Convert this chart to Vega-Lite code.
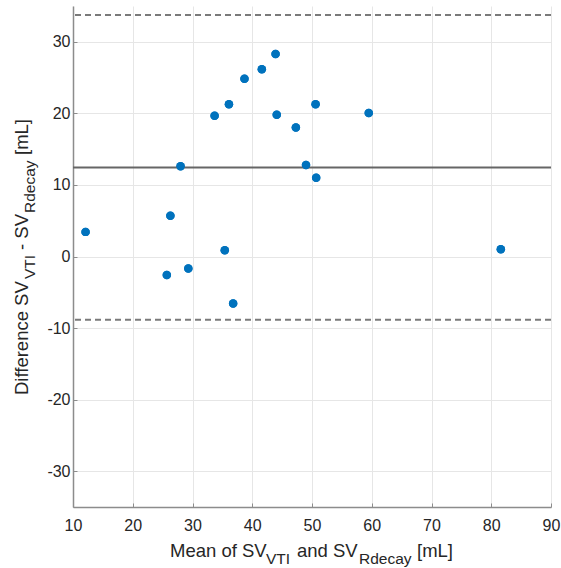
{
  "$schema": "https://vega.github.io/schema/vega-lite/v6.json",
  "width": 478,
  "height": 501,
  "autosize": {"type": "none"},
  "padding": {"left": 73, "top": 6, "right": 10, "bottom": 61},
  "background": "white",
  "config": {
    "view": {"stroke": null},
    "font": "Liberation Sans"
  },
  "datasets": {
    "points": [
      {"mean": 12.1, "diff": 3.44},
      {"mean": 25.7, "diff": -2.6},
      {"mean": 26.3, "diff": 5.68},
      {"mean": 28.0, "diff": 12.6},
      {"mean": 29.3, "diff": -1.68},
      {"mean": 33.7, "diff": 19.67},
      {"mean": 35.4, "diff": 0.88},
      {"mean": 36.1, "diff": 21.26},
      {"mean": 36.8, "diff": -6.57},
      {"mean": 38.7, "diff": 24.84},
      {"mean": 41.6, "diff": 26.15},
      {"mean": 43.9, "diff": 28.3},
      {"mean": 44.1, "diff": 19.8},
      {"mean": 47.3, "diff": 18.04},
      {"mean": 49.0, "diff": 12.77},
      {"mean": 50.6, "diff": 21.26},
      {"mean": 50.7, "diff": 10.99},
      {"mean": 59.5, "diff": 20.04},
      {"mean": 81.6, "diff": 1.02}
    ],
    "bias": [{"value": 12.43}],
    "limits": [{"value": 33.73}, {"value": -8.85}]
  },
  "layer": [
    {
      "data": {"name": "points"},
      "mark": {"type": "circle", "color": "#0072BD", "opacity": 1, "size": 72},
      "encoding": {
        "x": {"field": "mean", "type": "quantitative", "scale": {"domain": [10, 90], "nice": false, "zero": false},
          "axis": {"title": null, "values": [10, 20, 30, 40, 50, 60, 70, 80, 90], "labelExpr": "'' + datum.value", "labelFont": "Liberation Sans", "labelFontSize": 16, "labelColor": "#262626", "labelPadding": 14, "gridColor": "#e6e6e6", "gridWidth": 1, "domainColor": "#8c8c8c", "domainWidth": 1.5, "tickColor": "#8c8c8c", "tickSize": -4, "labelFlush": false}},
        "y": {"field": "diff", "type": "quantitative", "scale": {"domain": [-35, 35], "nice": false, "zero": false},
          "axis": {"title": null, "values": [-30, -20, -10, 0, 10, 20, 30], "labelExpr": "'' + datum.value", "labelFont": "Liberation Sans", "labelFontSize": 16, "labelColor": "#262626", "labelPadding": 7, "gridColor": "#e6e6e6", "gridWidth": 1, "domainColor": "#8c8c8c", "domainWidth": 1.5, "tickColor": "#8c8c8c", "tickSize": -4, "labelFlush": false}}
      }
    },
    {
      "data": {"name": "limits"},
      "mark": {"type": "rule", "color": "#7a7a7a", "strokeWidth": 2, "strokeDash": [6, 4]},
      "encoding": {
        "y": {"field": "value", "type": "quantitative", "scale": {"domain": [-35, 35], "nice": false, "zero": false}}
      }
    },
    {
      "data": {"name": "bias"},
      "mark": {"type": "rule", "color": "#666666", "strokeWidth": 2},
      "encoding": {
        "y": {"field": "value", "type": "quantitative", "scale": {"domain": [-35, 35], "nice": false, "zero": false}}
      }
    },
    {
      "data": {"name": "points"},
      "mark": {"type": "circle", "color": "#0072BD", "opacity": 1, "size": 72},
      "encoding": {
        "x": {"field": "mean", "type": "quantitative", "scale": {"domain": [10, 90], "nice": false, "zero": false}},
        "y": {"field": "diff", "type": "quantitative", "scale": {"domain": [-35, 35], "nice": false, "zero": false}}
      }
    },
    {
      "data": {"values": [{}]},
      "mark": {"type": "text", "text": "Mean of SV", "fontSize": 18.5, "color": "#262626", "align": "left", "baseline": "alphabetic", "dx": 97, "dy": 50, "clip": false},
      "encoding": {"x": {"datum": 10, "type": "quantitative"}, "y": {"datum": -35, "type": "quantitative"}}
    },
    {
      "data": {"values": [{}]},
      "mark": {"type": "text", "text": "VTI", "fontSize": 15.5, "color": "#262626", "align": "left", "baseline": "alphabetic", "dx": 193, "dy": 57, "clip": false},
      "encoding": {"x": {"datum": 10, "type": "quantitative"}, "y": {"datum": -35, "type": "quantitative"}}
    },
    {
      "data": {"values": [{}]},
      "mark": {"type": "text", "text": "and SV", "fontSize": 18.5, "color": "#262626", "align": "left", "baseline": "alphabetic", "dx": 224, "dy": 50, "clip": false},
      "encoding": {"x": {"datum": 10, "type": "quantitative"}, "y": {"datum": -35, "type": "quantitative"}}
    },
    {
      "data": {"values": [{}]},
      "mark": {"type": "text", "text": "Rdecay", "fontSize": 15.5, "color": "#262626", "align": "left", "baseline": "alphabetic", "dx": 286, "dy": 57, "clip": false},
      "encoding": {"x": {"datum": 10, "type": "quantitative"}, "y": {"datum": -35, "type": "quantitative"}}
    },
    {
      "data": {"values": [{}]},
      "mark": {"type": "text", "text": "[mL]", "fontSize": 18.5, "color": "#262626", "align": "left", "baseline": "alphabetic", "dx": 344, "dy": 50, "clip": false},
      "encoding": {"x": {"datum": 10, "type": "quantitative"}, "y": {"datum": -35, "type": "quantitative"}}
    },
    {
      "data": {"values": [{}]},
      "mark": {"type": "text", "text": "Difference SV", "angle": 270, "fontSize": 18.5, "color": "#262626", "align": "left", "baseline": "alphabetic", "dx": 112, "dy": -45, "clip": false},
      "encoding": {"x": {"datum": 10, "type": "quantitative"}, "y": {"datum": -35, "type": "quantitative"}}
    },
    {
      "data": {"values": [{}]},
      "mark": {"type": "text", "text": "VTI", "angle": 270, "fontSize": 15.5, "color": "#262626", "align": "left", "baseline": "alphabetic", "dx": 228, "dy": -38, "clip": false},
      "encoding": {"x": {"datum": 10, "type": "quantitative"}, "y": {"datum": -35, "type": "quantitative"}}
    },
    {
      "data": {"values": [{}]},
      "mark": {"type": "text", "text": "- SV", "angle": 270, "fontSize": 18.5, "color": "#262626", "align": "left", "baseline": "alphabetic", "dx": 257, "dy": -45, "clip": false},
      "encoding": {"x": {"datum": 10, "type": "quantitative"}, "y": {"datum": -35, "type": "quantitative"}}
    },
    {
      "data": {"values": [{}]},
      "mark": {"type": "text", "text": "Rdecay", "angle": 270, "fontSize": 15.5, "color": "#262626", "align": "left", "baseline": "alphabetic", "dx": 294, "dy": -38, "clip": false},
      "encoding": {"x": {"datum": 10, "type": "quantitative"}, "y": {"datum": -35, "type": "quantitative"}}
    },
    {
      "data": {"values": [{}]},
      "mark": {"type": "text", "text": "[mL]", "angle": 270, "fontSize": 18.5, "color": "#262626", "align": "left", "baseline": "alphabetic", "dx": 352, "dy": -45, "clip": false},
      "encoding": {"x": {"datum": 10, "type": "quantitative"}, "y": {"datum": -35, "type": "quantitative"}}
    }
  ]
}
